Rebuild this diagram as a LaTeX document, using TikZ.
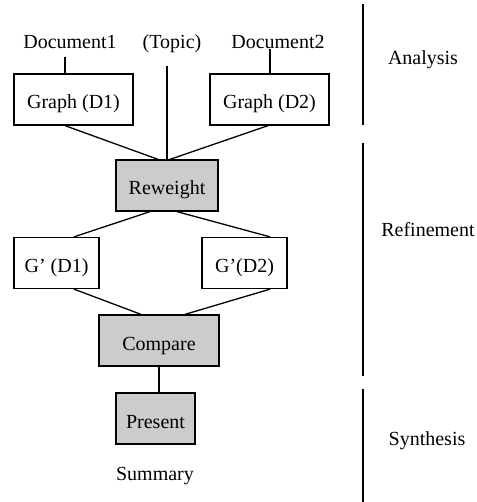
\documentclass[tikz,border=0pt]{standalone}
\usepackage{fontspec}
\setmainfont{Liberation Serif}
\begin{document}
\begin{tikzpicture}[x=1pt, y=-1pt, line width=1.3pt,
    box/.style={draw, fill=white, minimum width=#1, minimum height=51pt,
      inner sep=0pt, text height=19pt, text depth=0pt},
    greybox/.style={box=#1, fill=black!20},
    lbl/.style={anchor=base}]
    \fontsize{20}{24}\selectfont
    \useasboundingbox (0, 0) rectangle (476, 502);

    % inputs
    \node[lbl] (doc1) at (70, 49) {Document1};
    \node[lbl] (topic) at (172, 49) {(Topic)};
    \node[lbl] (doc2) at (278, 49) {Document2};

    \node[box=119pt] (g1) at (73.5, 99.5) {Graph (D1)};
    \node[box=119pt] (g2) at (269.5, 99.5) {Graph (D2)};
    \node[greybox=102pt] (rw) at (167, 185.5) {Reweight};
    \node[box=85pt] (h1) at (56.5, 263) {G' (D1)};
    \node[box=85pt] (h2) at (244.5, 263) {G'(D2)};
    \node[greybox=120pt] (cmp) at (159, 340.5) {Compare};
    \node[greybox=79pt] (pres) at (155.5, 418.5) {Present};
    \node[lbl] (sum) at (155, 480) {Summary};

    % 線を引く
    \draw ([xshift=-5pt]doc1.south) -- ([xshift=-8.5pt]g1.north);
    \draw ([xshift=-8pt]doc2.base) -- ([xshift=0.5pt]g2.north);
    \draw ([xshift=-5pt, yshift=-5pt]topic.south) -- (rw.north);
    \draw ([xshift=-8.5pt]g1.south) -- ([xshift=-9pt]rw.north);
    \draw ([xshift=-1.5pt]g2.south) -- ([xshift=3pt]rw.north);
    \draw ([xshift=-17pt]rw.south) -- ([xshift=17.5pt]h1.north);
    \draw ([xshift=10pt]rw.south) -- ([xshift=25.5pt]h2.north);
    \draw ([xshift=17.5pt]h1.south) -- ([xshift=-18pt]cmp.north);
    \draw ([xshift=25.5pt]h2.south) -- ([xshift=26pt]cmp.north);
    \draw (cmp.south) -- ([xshift=3.5pt]pres.north);

    % phases
    \coordinate (a1) at (363, 4);
    \coordinate (a2) at (363, 125);
    \coordinate (r1) at (363, 143);
    \coordinate (r2) at (363, 376);
    \coordinate (s1) at (363, 389);
    \coordinate (s2) at (363, 502);
    \draw (a1) -- (a2);
    \draw (r1) -- (r2);
    \draw (s1) -- (s2);
    \node (ana) at (423, 60) {Analysis};
    \node (ref) at (428, 230) {Refinement};
    \node (syn) at (427, 441) {Synthesis};

  \end{tikzpicture}
\end{document}
